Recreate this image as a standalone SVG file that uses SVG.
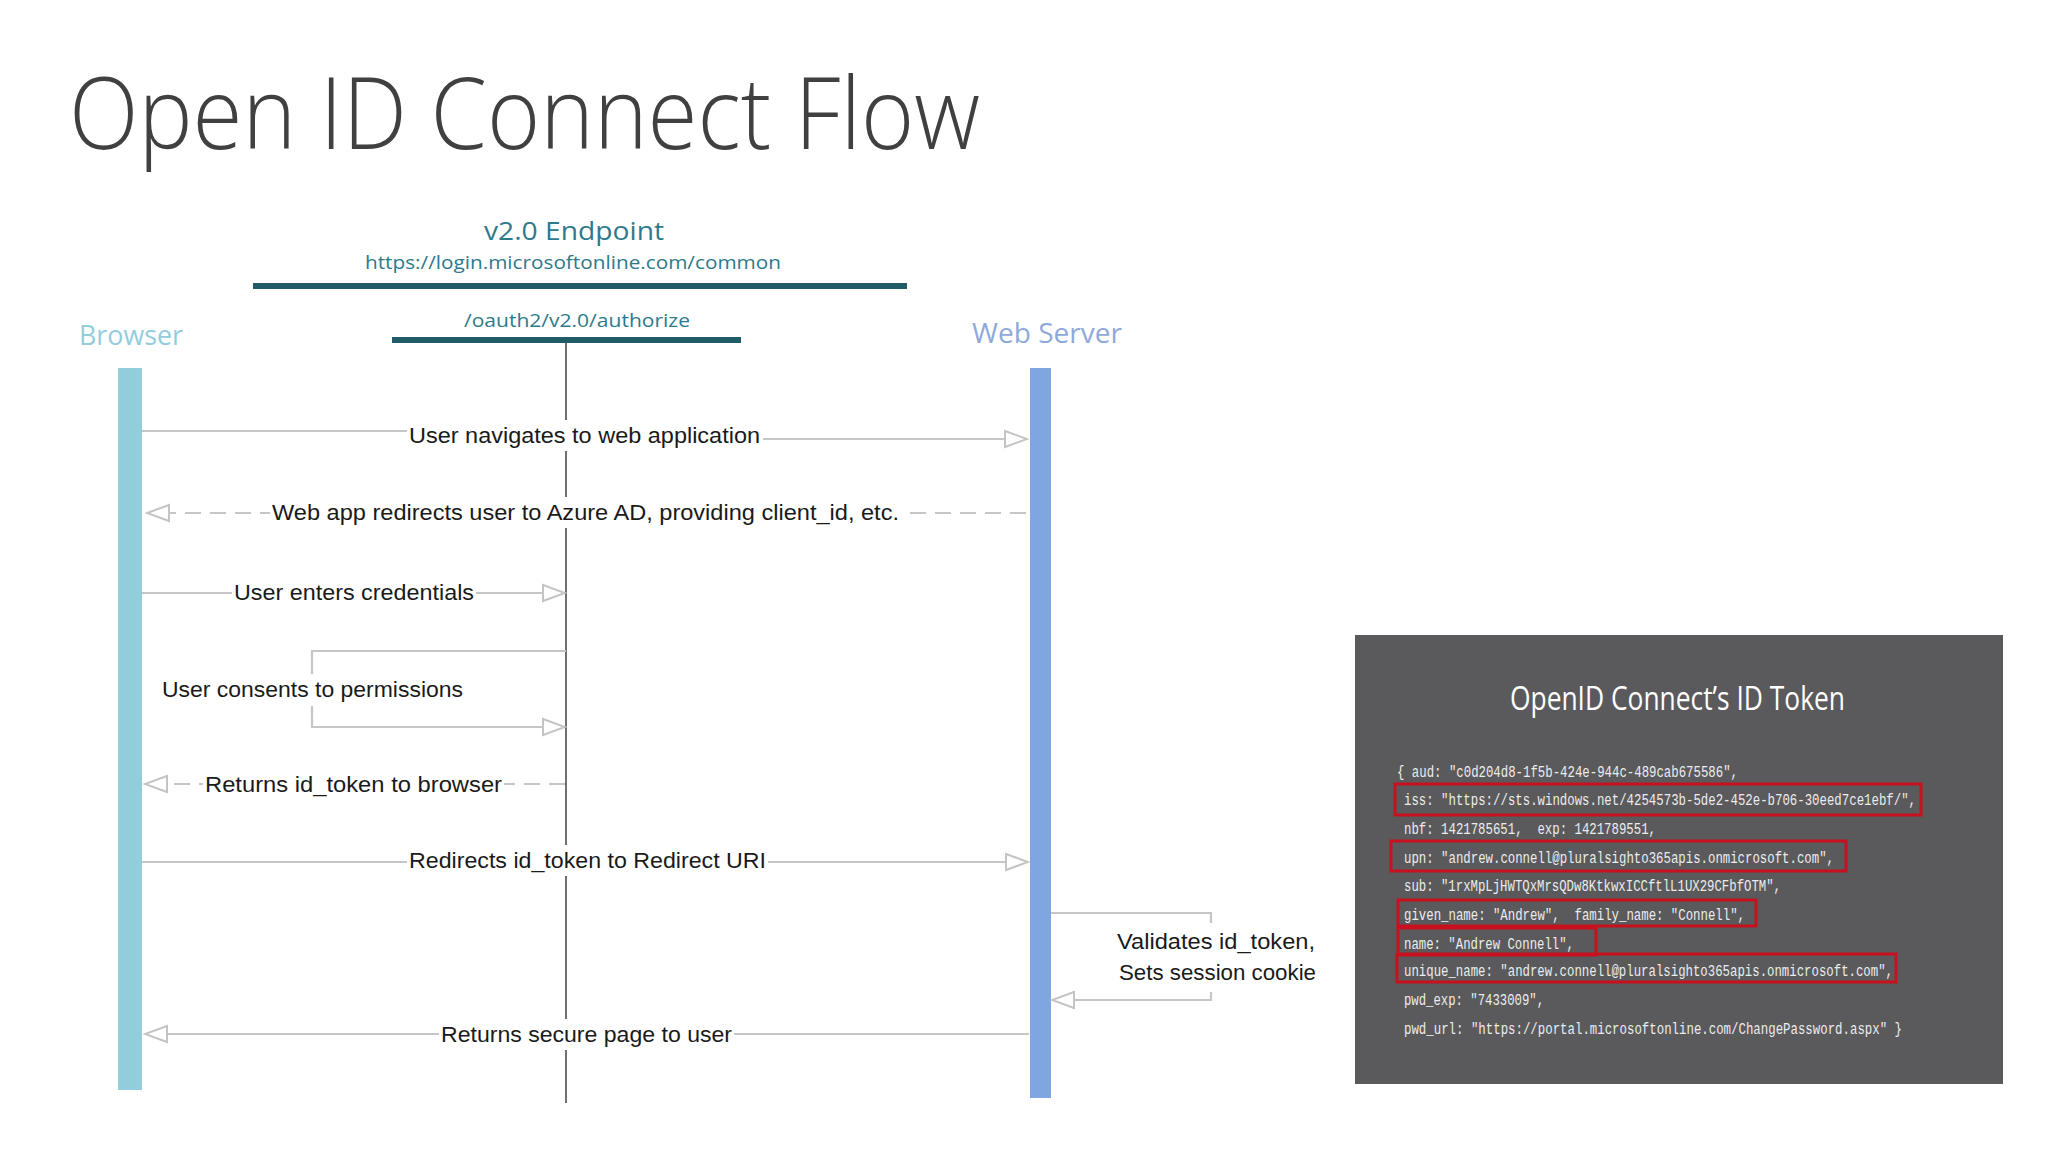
<svg xmlns="http://www.w3.org/2000/svg" width="2048" height="1152" viewBox="0 0 2048 1152">
  <defs>
    <marker id="arrow" markerUnits="userSpaceOnUse" markerWidth="26" markerHeight="20" viewBox="-2 -2 26 20" refX="22" refY="8" orient="auto">
      <path d="M0,0 L22,8 L0,16 Z" fill="#ffffff" stroke="#c4c4c4" stroke-width="2"/>
    </marker>
    <style>
      .title { font-family: "Open Sans", "Liberation Sans", sans-serif; font-weight: 300; font-size: 100px; fill: #404040; }
      .hdr { font-family: "Open Sans", "Liberation Sans", sans-serif; fill: #2e7a8c; }
      .bar { fill: #1f5c67; }
      .actor { font-family: "Open Sans", "Liberation Sans", sans-serif; font-size: 27px; }
      .msg { font-family: "Liberation Sans", "Noto Sans", sans-serif; font-size: 22px; fill: #1a1a1a; }
      .lbg { fill: #ffffff; }
      .conn { fill: none; stroke: #c6c6c6; stroke-width: 2.2; }
      .dash { stroke-dasharray: 16 9; }
      .life { stroke: #404040; stroke-width: 1.5; fill: none; }
      .code { font-family: "Liberation Mono", "DejaVu Sans Mono", monospace; font-size: 16px; fill: #ececec; }
      .hl { fill: none; stroke: #c8101e; stroke-width: 3; }
    </style>
  </defs>

  <rect x="0" y="0" width="2048" height="1152" fill="#ffffff"/>

  <text class="title" x="69" y="149" textLength="911" lengthAdjust="spacingAndGlyphs">Open ID Connect Flow</text>

  <!-- v2.0 endpoint node -->
  <g id="endpoint">
    <text class="hdr" x="574" y="240" font-size="25" text-anchor="middle" textLength="180" lengthAdjust="spacingAndGlyphs">v2.0 Endpoint</text>
    <text class="hdr" x="573" y="269" font-size="18" text-anchor="middle" textLength="416" lengthAdjust="spacingAndGlyphs">https://login.microsoftonline.com/common</text>
    <rect class="bar" x="253" y="283" width="654" height="6"/>
    <text class="hdr" x="577" y="327" font-size="18" text-anchor="middle" textLength="226" lengthAdjust="spacingAndGlyphs">/oauth2/v2.0/authorize</text>
    <rect class="bar" x="392" y="337" width="349" height="6"/>
    <line class="life" x1="566" y1="343" x2="566" y2="1103"/>
  </g>

  <!-- Browser node -->
  <g id="browser">
    <text class="actor" x="79" y="345" fill="#93cddd" textLength="104" lengthAdjust="spacingAndGlyphs">Browser</text>
    <rect x="118" y="368" width="24" height="722" fill="#92cddc"/>
  </g>

  <!-- Web Server node -->
  <g id="webserver">
    <text class="actor" x="972" y="343" fill="#8eaadb" textLength="150" lengthAdjust="spacingAndGlyphs">Web Server</text>
    <rect x="1030" y="368" width="21" height="730" fill="#7fa6e0"/>
  </g>

  <!-- connectors -->
  <g id="connectors">
    <line class="conn" x1="142" y1="431" x2="409" y2="431"/>
    <line class="conn" x1="760" y1="439" x2="1027" y2="439" marker-end="url(#arrow)"/>

    <line class="conn dash" x1="1026" y1="513" x2="147" y2="513" marker-end="url(#arrow)"/>

    <line class="conn" x1="142" y1="593" x2="565" y2="593" marker-end="url(#arrow)"/>

    <path class="conn" d="M566,651 L312,651 L312,727 L565,727" marker-end="url(#arrow)"/>

    <line class="conn dash" x1="565" y1="784" x2="145" y2="784" marker-end="url(#arrow)"/>

    <line class="conn" x1="142" y1="862" x2="1028" y2="862" marker-end="url(#arrow)"/>

    <path class="conn" d="M1051,913 L1211,913 L1211,1000 L1052,1000" marker-end="url(#arrow)"/>

    <line class="conn" x1="1029" y1="1034" x2="145" y2="1034" marker-end="url(#arrow)"/>
  </g>

  <!-- message labels -->
  <g id="labels">
    <rect class="lbg" x="407" y="420" width="356" height="31"/>
    <text class="msg" x="409" y="443" textLength="351" lengthAdjust="spacingAndGlyphs">User navigates to web application</text>

    <rect class="lbg" x="270" y="497" width="632" height="31"/>
    <text class="msg" x="272" y="520" textLength="627" lengthAdjust="spacingAndGlyphs">Web app redirects user to Azure AD, providing client_id, etc.</text>

    <rect class="lbg" x="232" y="577" width="244" height="31"/>
    <text class="msg" x="234" y="600" textLength="240" lengthAdjust="spacingAndGlyphs">User enters credentials</text>

    <rect class="lbg" x="160" y="674" width="305" height="32"/>
    <text class="msg" x="162" y="697" textLength="301" lengthAdjust="spacingAndGlyphs">User consents to permissions</text>

    <rect class="lbg" x="203" y="769" width="301" height="31"/>
    <text class="msg" x="205" y="792" textLength="297" lengthAdjust="spacingAndGlyphs">Returns id_token to browser</text>

    <rect class="lbg" x="407" y="845" width="361" height="31"/>
    <text class="msg" x="409" y="868" textLength="357" lengthAdjust="spacingAndGlyphs">Redirects id_token to Redirect URI</text>

    <rect class="lbg" x="1114" y="923" width="205" height="69"/>
    <text class="msg" x="1117" y="949" font-size="23" textLength="198" lengthAdjust="spacingAndGlyphs">Validates id_token,</text>
    <text class="msg" x="1119" y="980" font-size="23" textLength="197" lengthAdjust="spacingAndGlyphs">Sets session cookie</text>

    <rect class="lbg" x="439" y="1019" width="295" height="31"/>
    <text class="msg" x="441" y="1042" textLength="291" lengthAdjust="spacingAndGlyphs">Returns secure page to user</text>
  </g>

  <!-- ID token panel -->
  <g id="id-token">
    <rect x="1355" y="635" width="648" height="449" fill="#5a5a5c"/>
    <text x="1510" y="710" font-family="Open Sans, Liberation Sans, sans-serif" font-size="32" fill="#ffffff" textLength="335" lengthAdjust="spacingAndGlyphs">OpenID Connect’s ID Token</text>

    <text class="code" x="1397" y="777" textLength="341" lengthAdjust="spacingAndGlyphs">{ aud: "c0d204d8-1f5b-424e-944c-489cab675586",</text>
    <text class="code" x="1404" y="805" textLength="512" lengthAdjust="spacingAndGlyphs">iss: "https://sts.windows.net/4254573b-5de2-452e-b706-30eed7ce1ebf/",</text>
    <text class="code" x="1404" y="834" textLength="252" lengthAdjust="spacingAndGlyphs" xml:space="preserve">nbf: 1421785651,  exp: 1421789551,</text>
    <text class="code" x="1404" y="863" textLength="430" lengthAdjust="spacingAndGlyphs">upn: "andrew.connell@pluralsighto365apis.onmicrosoft.com",</text>
    <text class="code" x="1404" y="891" textLength="377" lengthAdjust="spacingAndGlyphs">sub: "1rxMpLjHWTQxMrsQDw8KtkwxICCftlL1UX29CFbfOTM",</text>
    <text class="code" x="1404" y="920" textLength="341" lengthAdjust="spacingAndGlyphs" xml:space="preserve">given_name: "Andrew",  family_name: "Connell",</text>
    <text class="code" x="1404" y="949" textLength="170" lengthAdjust="spacingAndGlyphs">name: "Andrew Connell",</text>
    <text class="code" x="1404" y="976" textLength="489" lengthAdjust="spacingAndGlyphs">unique_name: "andrew.connell@pluralsighto365apis.onmicrosoft.com",</text>
    <text class="code" x="1404" y="1005" textLength="140" lengthAdjust="spacingAndGlyphs">pwd_exp: "7433009",</text>
    <text class="code" x="1404" y="1034" textLength="498" lengthAdjust="spacingAndGlyphs">pwd_url: "https://portal.microsoftonline.com/ChangePassword.aspx" }</text>

    <rect class="hl" x="1395" y="784" width="526" height="31"/>
    <rect class="hl" x="1391" y="841" width="455" height="30"/>
    <rect class="hl" x="1398" y="900" width="358" height="26"/>
    <rect class="hl" x="1398" y="928" width="198" height="27"/>
    <rect class="hl" x="1397" y="954" width="499" height="28"/>
  </g>
</svg>
